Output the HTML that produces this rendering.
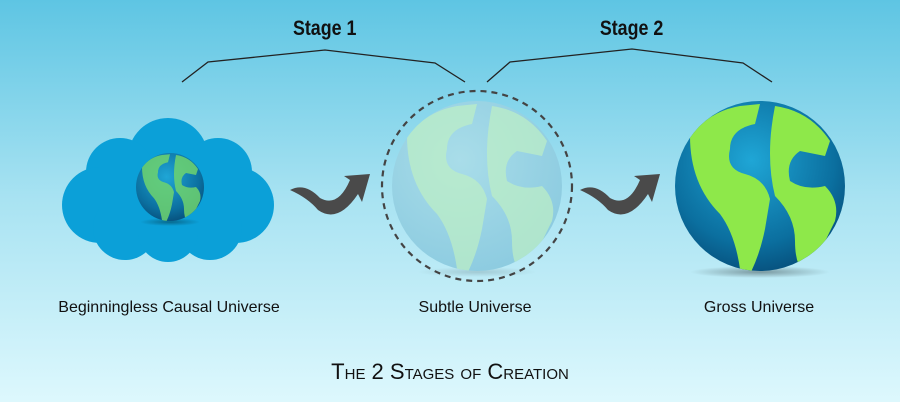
<!DOCTYPE html>
<html><head><style>
body{margin:0;width:900px;height:402px;overflow:hidden;background:linear-gradient(#5ec5e3,#a9e3f2 50%,#ddf8fd);font-family:"Liberation Sans",sans-serif;}
svg{position:absolute;left:0;top:0}
</style></head><body>
<svg width="900" height="402" viewBox="0 0 900 402">
<defs>
<radialGradient id="g1" cx="0.45" cy="0.35" r="0.7"><stop offset="0" stop-color="#1fa6d6"/><stop offset="0.7" stop-color="#0b6f9f"/><stop offset="1" stop-color="#064c78"/></radialGradient>
<radialGradient id="g2" cx="0.4" cy="0.35" r="0.7"><stop offset="0" stop-color="#a9dde9"/><stop offset="1" stop-color="#8ccbe0"/></radialGradient>
<radialGradient id="sh"><stop offset="0" stop-color="#000" stop-opacity="0.35"/><stop offset="1" stop-color="#000" stop-opacity="0"/></radialGradient>
<clipPath id="c1"><circle cx="170" cy="187" r="34"/></clipPath>
<clipPath id="c2"><circle cx="477" cy="186" r="85"/></clipPath>
<clipPath id="c3"><circle cx="760" cy="186" r="85"/></clipPath>
<path id="land" d="M-70 -50 q20 -25 50 -30 l20 -2 l-5 20 q-25 5 -25 25 q-5 20 15 25 q20 5 25 25 l-5 30 q-5 25 -15 45 l-10 -5 q-5 -35 -20 -55 q-30 -30 -30 -78z M15 -80 q35 5 55 35 l-5 15 l-25 -5 q-15 10 -10 30 q15 10 35 5 q15 15 10 35 q-15 30 -25 55 q-15 -5 -15 -35 q0 -25 -20 -45 q-10 -40 0 -90z"/>
</defs>
<text x="325" y="35" text-anchor="middle" font-size="21" font-weight="bold" fill="#111" transform="scale(0.85,1) translate(57,0)">Stage 1</text>
<text x="632" y="35" text-anchor="middle" font-size="21" font-weight="bold" fill="#111" transform="scale(0.85,1) translate(111,0)">Stage 2</text>
<polyline points="182,82 208,62 325,50 435,63 465,82" fill="none" stroke="#222" stroke-width="1.3"/>
<polyline points="487,82 510,62 632,49 743,63 772,82" fill="none" stroke="#222" stroke-width="1.3"/>
<g fill="#0ba0d8">
<circle cx="168" cy="158" r="40"/><circle cx="120" cy="172" r="34"/><circle cx="218" cy="172" r="34"/>
<circle cx="100" cy="205" r="38"/><circle cx="236" cy="205" r="38"/><circle cx="125" cy="228" r="32"/><circle cx="210" cy="228" r="32"/><circle cx="168" cy="232" r="30"/><rect x="100" y="165" width="140" height="70"/>
</g>
<ellipse cx="170" cy="222" rx="30" ry="4" fill="url(#sh)"/>
<circle cx="170" cy="187" r="34" fill="url(#g1)"/>
<g clip-path="url(#c1)"><use href="#land" transform="translate(170,187) scale(0.4)" fill="#6fd36f" opacity="0.85"/></g>
<circle cx="477" cy="186" r="95" fill="none" stroke="#444" stroke-width="2.2" stroke-dasharray="6,5"/>
<ellipse cx="477" cy="272" rx="60" ry="5" fill="url(#sh)" opacity="0.4"/>
<circle cx="477" cy="186" r="85" fill="url(#g2)"/>
<g clip-path="url(#c2)"><use href="#land" transform="translate(477,186)" fill="#bdf0c4" opacity="0.7"/></g>
<ellipse cx="760" cy="272" rx="70" ry="6" fill="url(#sh)"/>
<circle cx="760" cy="186" r="85" fill="url(#g1)"/>
<g clip-path="url(#c3)"><use href="#land" transform="translate(760,186)" fill="#8ee84a"/></g>
<path d="M290 190 q15 -8 30 8 q18 10 30 -18 l-6 -4 l26 -2 l-8 28 l-4 -8 q-20 30 -40 16 q-10 -12 -28 -20z" fill="#4a4a4a"/>
<path d="M580 190 q15 -8 30 8 q18 10 30 -18 l-6 -4 l26 -2 l-8 28 l-4 -8 q-20 30 -40 16 q-10 -12 -28 -20z" fill="#4a4a4a"/>
<g font-size="16" fill="#111" text-anchor="middle">
<text x="169" y="312">Beginningless Causal Universe</text>
<text x="475" y="312">Subtle Universe</text>
<text x="759" y="312">Gross Universe</text>
</g>
<text x="450" y="379" text-anchor="middle" font-size="22" fill="#111" style="font-variant:small-caps">The 2 Stages of Creation</text>
</svg>
</body></html>
